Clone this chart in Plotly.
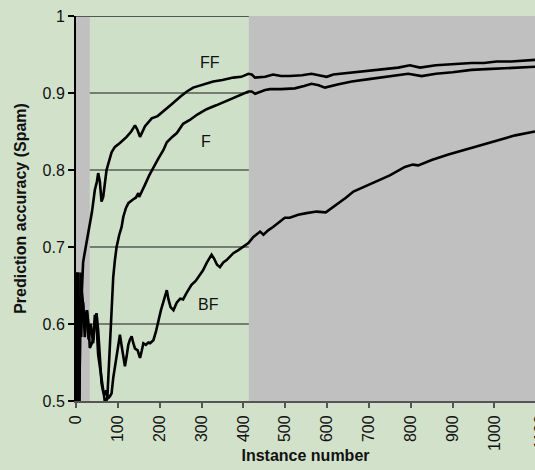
import plotly.graph_objects as go

# ---------------- data ----------------
ff_x = [0, 1, 2, 3, 4, 5, 6, 7, 8, 10, 12, 14, 17, 20, 24, 29, 33, 38, 45, 50, 53, 57, 61, 65, 73,
        85, 93, 105, 121, 132, 141, 147, 153, 165, 181, 195, 209, 230, 249, 265, 280, 300, 328, 350,
        376, 395, 412, 420, 428, 452, 471, 490, 511, 540, 563, 580, 599, 615, 631, 655, 679, 710,
        742, 770, 798, 822, 860, 890, 918, 945, 975, 1005, 1040, 1070, 1097]
ff_y = [0.0, 0.0, 0.5, 0.667, 0.5, 0.6, 0.5, 0.571, 0.625, 0.6, 0.667, 0.643, 0.68, 0.69, 0.703,
        0.722, 0.73, 0.745, 0.774, 0.785, 0.796, 0.785, 0.759, 0.765, 0.800, 0.823, 0.830, 0.835,
        0.843, 0.850, 0.858, 0.852, 0.843, 0.857, 0.867, 0.870, 0.876, 0.886, 0.895, 0.902, 0.907,
        0.910, 0.915, 0.917, 0.920, 0.921, 0.925, 0.924, 0.920, 0.921, 0.924, 0.922, 0.922, 0.923,
        0.925, 0.923, 0.921, 0.924, 0.925, 0.926, 0.928, 0.930, 0.932, 0.933, 0.936, 0.933, 0.936,
        0.937, 0.938, 0.939, 0.939, 0.941, 0.941, 0.942, 0.943]

f_x = [0, 1, 2, 3, 4, 5, 6, 7, 8, 10, 12, 14, 17, 21, 26, 30, 35, 41, 45, 49, 53, 57, 61, 66, 70,
       75, 80, 85, 89, 93, 97, 103, 109, 113, 119, 125, 131, 137, 143, 149, 151, 156, 165, 175, 185,
       197, 209, 217, 230, 241, 256, 272, 290, 312, 335, 360, 385, 412, 420, 428, 452, 464, 490,
       523, 545, 563, 580, 595, 625, 659, 700, 740, 770, 794, 826, 860, 900, 945, 980, 1020, 1060,
       1097]
f_y = [0.0, 0.0, 0.5, 0.333, 0.5, 0.6, 0.667, 0.571, 0.5, 0.6, 0.583, 0.643, 0.62, 0.60, 0.618,
       0.58, 0.60, 0.575, 0.612, 0.60, 0.56, 0.545, 0.53, 0.51, 0.495, 0.505, 0.56, 0.618, 0.661,
       0.683, 0.700, 0.715, 0.726, 0.739, 0.750, 0.757, 0.760, 0.762, 0.764, 0.770, 0.765, 0.770,
       0.781, 0.793, 0.804, 0.815, 0.826, 0.836, 0.843, 0.848, 0.860, 0.865, 0.872, 0.879, 0.884,
       0.890, 0.895, 0.902, 0.902, 0.899, 0.904, 0.905, 0.905, 0.906, 0.909, 0.912, 0.910, 0.907,
       0.911, 0.915, 0.918, 0.921, 0.923, 0.925, 0.922, 0.925, 0.927, 0.930, 0.931, 0.932, 0.933,
       0.934]

bf_x = [0, 1, 2, 3, 4, 5, 6, 7, 8, 10, 12, 14, 17, 21, 26, 30, 33, 37, 41, 45, 49, 53, 57, 61, 65,
        69, 72, 76, 81, 85, 89, 93, 97, 101, 105, 111, 117, 121, 125, 129, 133, 137, 141, 147, 153,
        157, 161, 167, 173, 177, 185, 191, 197, 203, 209, 213, 217, 221, 226, 233, 241, 249, 256,
        264, 276, 286, 296, 304, 312, 318, 324, 330, 337, 344, 352, 360, 368, 376, 388, 400, 412,
        424, 440, 448, 460, 471, 485, 499, 511, 531, 551, 563, 575, 597, 610, 623, 645, 663, 695,
        726, 750, 786, 805, 818, 850, 890, 929, 970, 1009, 1050, 1097]
bf_y = [0.0, 0.0, 0.5, 0.667, 0.5, 0.4, 0.5, 0.571, 0.5, 0.6, 0.583, 0.629, 0.627, 0.583, 0.618,
        0.60, 0.569, 0.575, 0.579, 0.60, 0.614, 0.592, 0.549, 0.523, 0.512, 0.508, 0.514, 0.503,
        0.506, 0.510, 0.530, 0.545, 0.556, 0.575, 0.586, 0.565, 0.545, 0.558, 0.573, 0.580, 0.584,
        0.575, 0.568, 0.566, 0.556, 0.565, 0.575, 0.573, 0.576, 0.575, 0.579, 0.590, 0.605, 0.618,
        0.629, 0.638, 0.644, 0.632, 0.622, 0.618, 0.628, 0.633, 0.632, 0.640, 0.651, 0.656, 0.664,
        0.670, 0.679, 0.684, 0.690, 0.685, 0.677, 0.674, 0.680, 0.683, 0.687, 0.692, 0.696, 0.700,
        0.705, 0.713, 0.720, 0.716, 0.722, 0.726, 0.732, 0.738, 0.738, 0.742, 0.744, 0.745, 0.746,
        0.745, 0.750, 0.755, 0.764, 0.772, 0.780, 0.788, 0.793, 0.804, 0.807, 0.806, 0.813, 0.820,
        0.826, 0.833, 0.839, 0.845, 0.850]

series_names = ["FF", "F", "BF"]
label_x = [320, 311, 316]
label_y = [0.939, 0.837, 0.625]

x_tickvals = [0, 100, 200, 300, 400, 500, 600, 700, 800, 900, 1000]
y_tickvals = [0.5, 0.6, 0.7, 0.8, 0.9, 1.0]
y_ticktext = ["0.5", "0.6", "0.7", "0.8", "0.9", "1"]
grid_levels = [0.6, 0.7, 0.8, 0.9]
shade_start, shade_end = 33, 413
x_max = 1097

# ---------------- figure ----------------
FONT = "Liberation Sans, Arial, sans-serif"
fig = go.Figure()
for xs, ys, name in [(ff_x, ff_y, "FF"), (f_x, f_y, "F"), (bf_x, bf_y, "BF")]:
    fig.add_trace(go.Scatter(x=xs, y=ys, mode="lines", name=name,
                             line=dict(color="black", width=2.6), showlegend=False))

shapes = [dict(type="rect", xref="x", yref="y", x0=shade_start, x1=shade_end, y0=0.5, y1=1.0,
               fillcolor="#cfe0c8", line=dict(width=0), layer="below")]
for g in grid_levels:
    shapes.append(dict(type="line", xref="x", yref="y", x0=shade_start, x1=shade_end, y0=g, y1=g,
                       line=dict(color="#1a1a1a", width=1), layer="below"))
shapes.append(dict(type="line", xref="x", yref="y", x0=0, x1=shade_end, y0=1.0, y1=1.0,
                   line=dict(color="#555555", width=2), layer="below"))

annotations = []
for nm, lx, ly in zip(series_names, label_x, label_y):
    annotations.append(dict(x=lx, y=ly, xref="x", yref="y", text=nm, showarrow=False,
                            font=dict(family=FONT, size=16, color="#111111")))
annotations.append(dict(x=1100 / x_max, y=-0.03, xref="paper", yref="paper", text="1100",
                        textangle=-90, showarrow=False, xanchor="center", yanchor="top",
                        xshift=4,
                        font=dict(family=FONT, size=16, color="#111111")))

fig.update_layout(
    width=535, height=470,
    margin=dict(l=76, r=0, t=16, b=69),
    paper_bgcolor="#d2e2ca",
    plot_bgcolor="#c0c0c0",
    font=dict(family=FONT, size=16, color="#111111"),
    shapes=shapes,
    annotations=annotations,
    xaxis=dict(range=[0, x_max], tickvals=x_tickvals, tickangle=-90,
               showgrid=False, zeroline=False, showline=True, linecolor="#555555", linewidth=2,
               ticks="outside", ticklen=5, tickcolor="#555555", tickwidth=1.5,
               ticklabelstandoff=1,
               tickfont=dict(family=FONT, size=16, color="#111111"),
               title=dict(text="<b>Instance number</b>", standoff=0,
                          font=dict(family=FONT, size=16, color="#111111"))),
    yaxis=dict(range=[0.5, 1.0], tickvals=y_tickvals, ticktext=y_ticktext,
               showgrid=False, zeroline=False, showline=True, linecolor="black", linewidth=2,
               ticks="outside", ticklen=6, tickcolor="black", tickwidth=1.5,
               tickfont=dict(family=FONT, size=16, color="#111111"),
               title=dict(text="<b>Prediction accuracy (Spam)</b>", standoff=12,
                          font=dict(family=FONT, size=16, color="#111111"))),
)

fig.write_html("out.html", config={"displayModeBar": False},
               post_script="document.body.style.margin='0px';document.body.style.overflow='hidden';")
